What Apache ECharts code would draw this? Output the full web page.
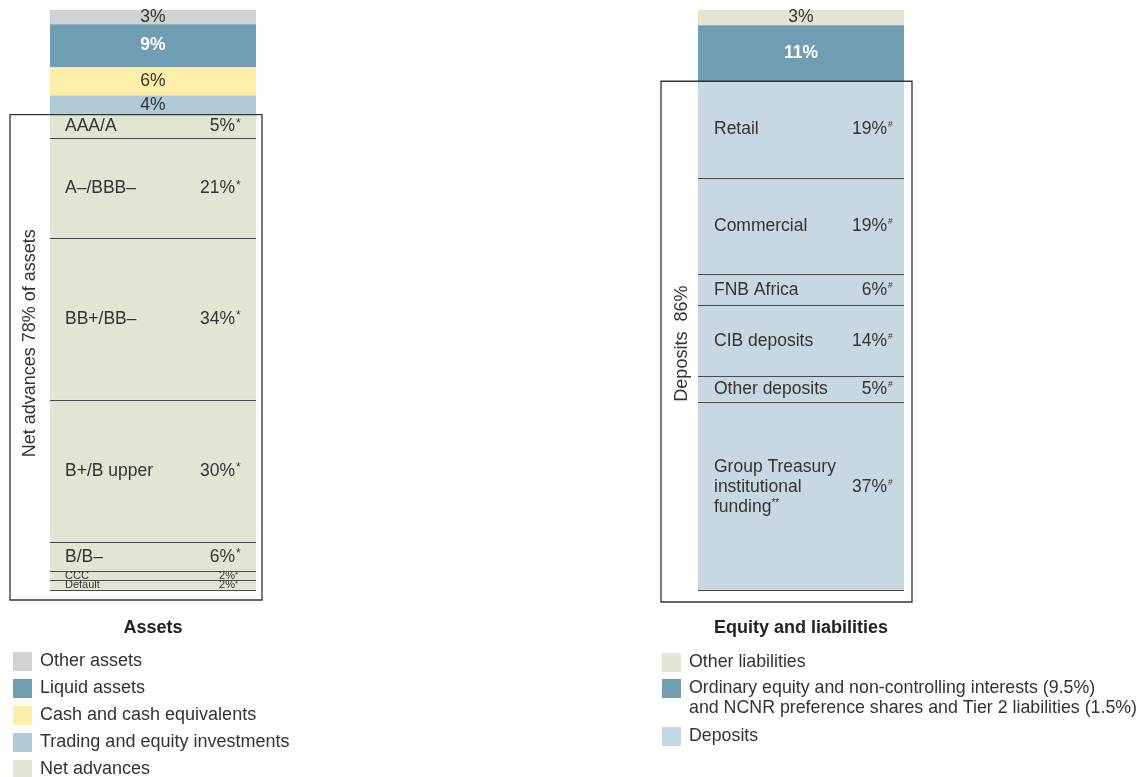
<!DOCTYPE html>
<html>
<head>
<meta charset="utf-8">
<title>Balance sheet composition</title>
<script src="https://cdn.jsdelivr.net/npm/echarts@6/dist/echarts.min.js"></script>
<style>
  html, body { margin: 0; padding: 0; background: #ffffff; }
  #chart { width: 1139px; height: 777px; }
</style>
</head>
<body>
<div id="chart"></div>
<script>
// ---- Assets (% of total assets), listed from the top of the column down ----
const assetCategories = ['Other assets', 'Liquid assets', 'Cash and cash equivalents', 'Trading and equity investments'];
const assetShares = [3, 9, 6, 4];

// Net advances broken down by rating bucket (% of net advances)
const netAdvancesLabel = 'Net advances';
const netAdvancesShareOfAssets = 78;
const ratingBuckets = ['AAA/A', 'A–/BBB–', 'BB+/BB–', 'B+/B upper', 'B/B–', 'CCC', 'Default'];
const ratingShares = [5, 21, 34, 30, 6, 2, 2];

// ---- Equity and liabilities (% of total), listed from the top down ----
const liabilityCategories = [
  'Other liabilities',
  'Ordinary equity and non-controlling interests (9.5%)\nand NCNR preference shares and Tier 2 liabilities (1.5%)'
];
const liabilityShares = [3, 11];

// Deposits broken down by source (% of deposits)
const depositsLabel = 'Deposits';
const depositsShareOfFunding = 86;
const depositSegments = ['Retail', 'Commercial', 'FNB Africa', 'CIB deposits', 'Other deposits', 'Group Treasury\ninstitutional\nfunding**'];
const depositShares = [19, 19, 6, 14, 5, 37];

// ---- Styling ----
const FONT = '"Liberation Sans", Arial, Helvetica, sans-serif';
const TEXT = '#333333';
const assetColors = ['#d1d2d4', '#6f9db2', '#fdeea8', '#b0cad7'];
const netAdvancesColor = '#e3e4d4';
const liabilityColors = ['#e3e4d4', '#6f9db2'];
const depositsColor = '#c8d8e2';

const COLUMN = { top: 10, height: 580, width: 206 };
const LEFT_X = 50;
const RIGHT_X = 698;
const LABEL_SIZE = 17.5;
const LEGEND_SIZE = 17.8;
const FUNDING_LEGEND = { left: 662, top: 652, lineHeight: 21 };

const sum = arr => arr.reduce((s, v) => s + v, 0);
const runningTotals = (start, arr) => { let c = start; return arr.map(v => (c += v)); };
const isDark = hex => {
  const n = parseInt(hex.slice(1), 16);
  const r = n >> 16, g = (n >> 8) & 255, b = n & 255;
  return 0.299 * r + 0.587 * g + 0.114 * b < 170;
};

const assetTop = sum(assetShares);
const assetTotal = assetTop + sum(ratingShares);
const fundingTop = sum(liabilityShares);
const fundingTotal = fundingTop + sum(depositShares);

// Rich text styles for the "name ........ value%*" labels inside the breakdown segments
function richStyles(nameWidth, valueWidth, markSize) {
  const base = { color: TEXT, fontFamily: FONT };
  return {
    n:  Object.assign({ width: nameWidth, fontSize: LABEL_SIZE, lineHeight: 20 }, base),
    g:  Object.assign({ fontSize: LABEL_SIZE, lineHeight: 20 }, base),
    v:  Object.assign({ width: valueWidth, align: 'right', fontSize: LABEL_SIZE, lineHeight: 20 }, base),
    s:  Object.assign({ align: 'right', fontSize: markSize, lineHeight: markSize + 3, verticalAlign: 'top', padding: [1, 0, 0, 1] }, base),
    gs: Object.assign({ fontSize: 10, lineHeight: 12, verticalAlign: 'top', padding: [1, 0, 0, 0] }, base),
    cn: Object.assign({ width: nameWidth, fontSize: 11, lineHeight: 10 }, base),
    cv: Object.assign({ width: valueWidth, align: 'right', fontSize: 11, lineHeight: 10 }, base),
    cs: Object.assign({ align: 'right', fontSize: 8, lineHeight: 6, verticalAlign: 'top' }, base)
  };
}

function segmentLabel(name, value, mark, compact) {
  const p = compact ? 'c' : '';
  const lines = name.split('\n');
  const mid = Math.floor((lines.length - 1) / 2);
  return lines.map((line, i) => {
    const m = line.match(/^(.*?)(\**)$/);
    if (i === mid) return `{${p}n|${m[1]}}{${p}v|${value}%}{${p}s|${mark}}`;
    return `{g|${m[1]}}` + (m[2] ? `{gs|${m[2]}}` : '');
  }).join('\n');
}

function topSeries(names, values, colors, stack, axis) {
  return names.map((name, i) => ({
    type: 'bar', name, stack,
    xAxisIndex: axis, yAxisIndex: axis,
    barWidth: '100%',
    data: [values[i]],
    itemStyle: { color: colors[i] },
    label: {
      show: true, position: 'inside', formatter: '{c}%',
      fontFamily: FONT, fontSize: LABEL_SIZE,
      color: isDark(colors[i]) ? '#ffffff' : TEXT,
      fontWeight: isDark(colors[i]) ? 'bold' : 'normal'
    }
  }));
}

function breakdownSeries(groupName, names, values, color, stack, axis, start, mark, rich, indent) {
  const bounds = runningTotals(start, values);
  return names.map((name, i) => ({
    type: 'bar', name: groupName, stack,
    xAxisIndex: axis, yAxisIndex: axis,
    barWidth: '100%',
    data: [values[i]],
    itemStyle: { color },
    label: {
      show: true, position: 'insideLeft', distance: indent,
      offset: [0, name.includes('\n') ? -9 : 0],
      formatter: segmentLabel(name, values[i], mark, values[i] < 3),
      rich
    },
    markLine: i === names.length - 1 ? {
      silent: true, symbol: ['none', 'none'],
      label: { show: false },
      lineStyle: { color: '#4a4a4a', width: 1.2, type: 'solid' },
      data: bounds.map(v => ({ yAxis: v }))
    } : undefined
  }));
}

const chart = echarts.init(document.getElementById('chart'));

const legendText = { fontFamily: FONT, fontSize: 18, color: TEXT, lineHeight: 21, padding: [0, 0, 0, 3] };
const legendBase = { orient: 'vertical', padding: 0, itemWidth: 19, itemHeight: 19, icon: 'rect', selectedMode: false };
const fundingText = Object.assign({}, legendText, { fontSize: LEGEND_SIZE });

// Multi-line legend entries show their first line beside the swatch; the rest follows underneath
const firstLine = name => name.split('\n')[0];
const continuationLines = liabilityCategories
  .map((name, i) => ({ i, rest: name.split('\n').slice(1) }))
  .filter(d => d.rest.length);

chart.setOption({
  animation: false,
  title: [
    { text: 'Assets', left: LEFT_X + COLUMN.width / 2, top: 619, textAlign: 'center', padding: 0,
      textStyle: { fontFamily: FONT, fontSize: 18, fontWeight: 'bold', color: '#222' } },
    { text: 'Equity and liabilities', left: RIGHT_X + COLUMN.width / 2, top: 619, textAlign: 'center', padding: 0,
      textStyle: { fontFamily: FONT, fontSize: 18, fontWeight: 'bold', color: '#222' } }
  ],
  legend: [
    Object.assign({ data: [...assetCategories, netAdvancesLabel], left: 13, top: 651, height: 150, itemGap: 6,
      textStyle: legendText }, legendBase),
    Object.assign({ data: liabilityCategories, left: FUNDING_LEGEND.left, top: FUNDING_LEGEND.top, height: 80, itemGap: 5,
      formatter: firstLine, textStyle: fundingText }, legendBase),
    Object.assign({ data: [depositsLabel], left: FUNDING_LEGEND.left, top: 726, height: 40, itemGap: 5,
      textStyle: fundingText }, legendBase)
  ],
  grid: [
    { left: LEFT_X, top: COLUMN.top, width: COLUMN.width, height: COLUMN.height },
    { left: RIGHT_X, top: COLUMN.top, width: COLUMN.width, height: COLUMN.height }
  ],
  xAxis: [
    { type: 'category', gridIndex: 0, data: ['Assets'], show: false },
    { type: 'category', gridIndex: 1, data: ['Equity and liabilities'], show: false }
  ],
  yAxis: [
    { type: 'value', gridIndex: 0, min: 0, max: assetTotal, inverse: true, show: false, splitLine: { show: false } },
    { type: 'value', gridIndex: 1, min: 0, max: fundingTotal, inverse: true, show: false, splitLine: { show: false } }
  ],
  series: [
    ...topSeries(assetCategories, assetShares, assetColors, 'assets', 0),
    ...breakdownSeries(netAdvancesLabel, ratingBuckets, ratingShares, netAdvancesColor, 'assets', 0,
      assetTop, '*', richStyles(130, 40, 12), 15),
    ...topSeries(liabilityCategories, liabilityShares, liabilityColors, 'funding', 1),
    ...breakdownSeries(depositsLabel, depositSegments, depositShares, depositsColor, 'funding', 1,
      fundingTop, '#', richStyles(130, 43, 8.5), 16)
  ]
});

// Frames around the net advances and deposits blocks, with their rotated captions
const yNetTop = chart.convertToPixel({ yAxisIndex: 0 }, assetTop);
const yNetBottom = chart.convertToPixel({ yAxisIndex: 0 }, assetTotal) + 10;
const yDepTop = chart.convertToPixel({ yAxisIndex: 1 }, fundingTop);
const yDepBottom = chart.convertToPixel({ yAxisIndex: 1 }, fundingTotal) + 12;
const frameStyle = { fill: 'none', stroke: '#333333', lineWidth: 1.3 };
const captionStyle = (text) => ({ text, fontFamily: FONT, fontSize: 18, fill: TEXT, align: 'center', verticalAlign: 'middle' });

const legendRowPitch = 19 + 5 + 2;
const continuationText = continuationLines.map(d => ({
  type: 'text', silent: true,
  x: FUNDING_LEGEND.left + 19 + 8,
  y: FUNDING_LEGEND.top + 9.5 + d.i * legendRowPitch + FUNDING_LEGEND.lineHeight,
  style: { text: d.rest.join('\n'), fontFamily: FONT, fontSize: LEGEND_SIZE, lineHeight: FUNDING_LEGEND.lineHeight,
           fill: TEXT, align: 'left', verticalAlign: 'middle' }
}));

chart.setOption({
  graphic: [
    { type: 'rect', z: 100, silent: true,
      shape: { x: LEFT_X - 40, y: yNetTop, width: COLUMN.width + 46, height: yNetBottom - yNetTop },
      style: frameStyle },
    { type: 'rect', z: 100, silent: true,
      shape: { x: RIGHT_X - 37, y: yDepTop, width: COLUMN.width + 45, height: yDepBottom - yDepTop },
      style: frameStyle },
    { type: 'text', z: 100, silent: true, x: LEFT_X - 20, y: (yNetTop + yNetBottom) / 2 - 14, rotation: Math.PI / 2,
      style: captionStyle(`${netAdvancesLabel} ${netAdvancesShareOfAssets}% of assets`) },
    { type: 'text', z: 100, silent: true, x: RIGHT_X - 16, y: (yDepTop + yDepBottom) / 2 + 2, rotation: Math.PI / 2,
      style: captionStyle(`${depositsLabel}  ${depositsShareOfFunding}%`) },
    ...continuationText
  ]
});
</script>
</body>
</html>
